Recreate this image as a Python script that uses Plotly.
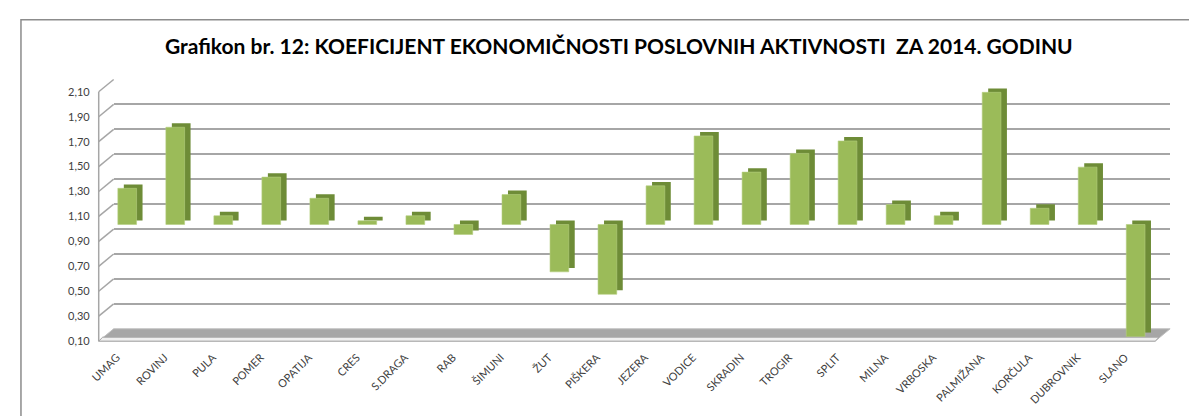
import plotly.graph_objects as go

# ---- data ----
cities = ["UMAG", "ROVINJ", "PULA", "POMER", "OPATIJA", "CRES", "S.DRAGA", "RAB",
          "ŠIMUNI", "ŽUT", "PIŠKERA", "JEZERA", "VODICE", "SKRADIN", "TROGIR",
          "SPLIT", "MILNA", "VRBOSKA", "PALMIŽANA", "KORČULA", "DUBROVNIK", "SLANO"]
coefficients = [1.29, 1.78, 1.07, 1.38, 1.21, 1.03, 1.07, 0.92,
                1.24, 0.62, 0.44, 1.31, 1.71, 1.42, 1.57,
                1.67, 1.16, 1.07, 2.06, 1.13, 1.46, 0.10]
base_value = 1.0
tick_values = [0.10, 0.30, 0.50, 0.70, 0.90, 1.10, 1.30, 1.50, 1.70, 1.90, 2.10]
tick_labels = [f"{v:.2f}".replace(".", ",") for v in tick_values]
title_text = "Grafikon br. 12: KOEFICIJENT EKONOMIČNOSTI POSLOVNIH AKTIVNOSTI  ZA 2014. GODINU"

# ---- geometry (pixels) ----
W, H = 1197, 416
def fx(px): return px / W
def fy(py): return 1 - py / H

FRONT_L, FRONT_R = 87, 1147
BOTTOM, TOP = 338, 72
PX_PER_UNIT = 126.5
y_top_val = 0.1 + (BOTTOM - TOP) / PX_PER_UNIT
BACK_DX, BACK_DY = 15, 12.5
FACE_DX, FACE_DY = 4.5, 4.5
EXT_DX, EXT_DY = 6, 4
LABEL_DX, LABEL_DY = -6, 7

deltas = [v - base_value for v in coefficients]
ncat = len(cities)
xr = [-0.5, ncat - 0.5]

font_family = "Lato, 'Open Sans', Arial, sans-serif"
fig = go.Figure()

# invisible anchor trace on the label axes
fig.add_trace(go.Scatter(x=cities, y=coefficients, mode="markers",
                         marker=dict(opacity=0), hoverinfo="skip",
                         showlegend=False, xaxis="x", yaxis="y"))
# back wall gridline axes
fig.add_trace(go.Scatter(x=cities, y=coefficients, mode="markers",
                         marker=dict(opacity=0), hoverinfo="skip",
                         showlegend=False, xaxis="x2", yaxis="y2"))
# extrusion (side/top) of the bars
fig.add_trace(go.Bar(x=cities, y=deltas, base=base_value, width=0.39,
                     marker=dict(color="#6E8C37", line=dict(width=0)),
                     hoverinfo="skip", showlegend=False, xaxis="x3", yaxis="y3"))
# front faces
fig.add_trace(go.Bar(x=cities, y=deltas, base=base_value, width=0.39,
                     marker=dict(color="#9BBB59", line=dict(color="#B5CF82", width=0.6)),
                     customdata=coefficients,
                     hovertemplate="%{x}: %{customdata:.2f}<extra></extra>",
                     showlegend=False, xaxis="x4", yaxis="y4"))

hidden_x = dict(type="category", range=xr, visible=False, fixedrange=True)
hidden_y = dict(visible=False, fixedrange=True)

fig.update_layout(
    width=W, height=H, autosize=False,
    margin=dict(l=0, r=0, t=0, b=0),
    paper_bgcolor="white", plot_bgcolor="rgba(0,0,0,0)",
    font=dict(family=font_family, color="#404040"),
    barmode="overlay",
    xaxis=dict(domain=[fx(FRONT_L + LABEL_DX), fx(FRONT_R + LABEL_DX)], type="category", range=xr,
               tickangle=-45, ticks="", showgrid=False, showline=False, zeroline=False,
               tickfont=dict(size=11, color="#404040"),
               anchor="free", position=fy(BOTTOM + LABEL_DY), fixedrange=True),
    yaxis=dict(domain=[fy(BOTTOM), fy(TOP)], range=[0.1, y_top_val],
               tickvals=tick_values, ticktext=tick_labels, ticks="",
               showgrid=False, showline=False, zeroline=False,
               tickfont=dict(size=11, color="#404040"),
               anchor="free", position=fx(78), fixedrange=True),
    xaxis2=dict(domain=[fx(FRONT_L + BACK_DX), fx(FRONT_R + BACK_DX)], anchor="y2", **hidden_x),
    yaxis2=dict(domain=[fy(BOTTOM - BACK_DY), fy(TOP - BACK_DY + (y_top_val - 2.1) * PX_PER_UNIT)],
                range=[0.1, 2.1], anchor="x2", tickvals=tick_values,
                showticklabels=False, ticks="", showgrid=True,
                gridcolor="#A6A6A6", gridwidth=1.5, zeroline=False, showline=False,
                fixedrange=True),
    xaxis3=dict(domain=[fx(FRONT_L + FACE_DX + EXT_DX), fx(FRONT_R + FACE_DX + EXT_DX)],
                anchor="y3", **hidden_x),
    yaxis3=dict(domain=[fy(BOTTOM - FACE_DY - EXT_DY), fy(TOP - FACE_DY - EXT_DY)],
                range=[0.1, y_top_val], anchor="x3", **hidden_y),
    xaxis4=dict(domain=[fx(FRONT_L + FACE_DX), fx(FRONT_R + FACE_DX)], anchor="y4", **hidden_x),
    yaxis4=dict(domain=[fy(BOTTOM - FACE_DY), fy(TOP - FACE_DY)],
                range=[0.1, y_top_val], anchor="x4", **hidden_y),
)

shapes = []
# outer chart border
shapes.append(dict(type="rect", xref="paper", yref="paper",
                   x0=fx(9), y0=fy(12), x1=1.02, y1=-0.05,
                   line=dict(color="#8C8C8C", width=1.5), fillcolor="rgba(0,0,0,0)", layer="below"))
# floor
floor_path = (f"M {fx(FRONT_L)},{fy(BOTTOM)} L {fx(FRONT_L + BACK_DX)},{fy(BOTTOM - BACK_DY)} "
              f"L {fx(FRONT_R + BACK_DX)},{fy(BOTTOM - BACK_DY)} L {fx(FRONT_R)},{fy(BOTTOM)} Z")
shapes.append(dict(type="path", xref="paper", yref="paper", path=floor_path,
                   fillcolor="#A6A6A6", line=dict(color="#BFBFBF", width=1), layer="below"))
front_strip = (f"M {fx(FRONT_L)},{fy(BOTTOM)} L {fx(FRONT_L + 4)},{fy(BOTTOM - 4)} "
               f"L {fx(FRONT_R + 4)},{fy(BOTTOM - 4)} L {fx(FRONT_R)},{fy(BOTTOM)} Z")
shapes.append(dict(type="path", xref="paper", yref="paper", path=front_strip,
                   fillcolor="#EFEFEF", line=dict(color="#A6A6A6", width=1), layer="below"))
# left wall front edge and diagonal connectors
y_at = lambda v: BOTTOM - (v - 0.1) * PX_PER_UNIT
shapes.append(dict(type="line", xref="paper", yref="paper",
                   x0=fx(FRONT_L), y0=fy(BOTTOM), x1=fx(FRONT_L), y1=fy(y_at(2.1)),
                   line=dict(color="#A6A6A6", width=1.5), layer="below"))
for v in tick_values[1:]:
    shapes.append(dict(type="line", xref="paper", yref="paper",
                       x0=fx(FRONT_L), y0=fy(y_at(v)),
                       x1=fx(FRONT_L + BACK_DX), y1=fy(y_at(v) - BACK_DY),
                       line=dict(color="#A6A6A6", width=1.5), layer="below"))
fig.update_layout(shapes=shapes)

fig.add_annotation(text=f"<b>{title_text}</b>", xref="paper", yref="paper",
                   x=fx(609), y=fy(38), xanchor="center", yanchor="middle",
                   showarrow=False, font=dict(size=21, color="#000000", family=font_family))

fig.write_html("out.html")
